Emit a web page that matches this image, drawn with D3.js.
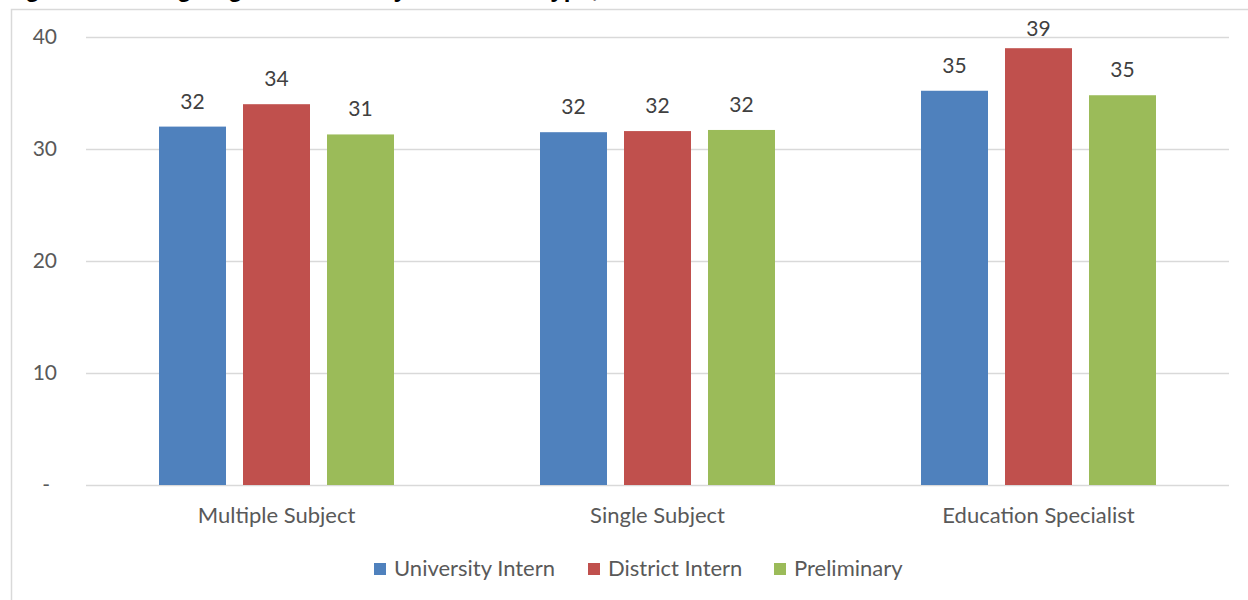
<!DOCTYPE html>
<html>
<head>
<meta charset="utf-8">
<script src="https://cdn.jsdelivr.net/npm/d3@7"></script>
<style>
  html, body { margin: 0; padding: 0; background: #fff; overflow: hidden; }
  svg { display: block; }
</style>
</head>
<body>
<svg id="chart" width="1248" height="600"></svg>
<script>
const titleText = "Figure 3: Average Age of Interns by Credential Type, 2013-14";
const categories = ["Multiple Subject", "Single Subject", "Education Specialist"];
const seriesNames = ["University Intern", "District Intern", "Preliminary"];
const seriesColors = ["#4F81BD", "#C0504D", "#9BBB59"];
const universityIntern = [32.0, 31.5, 35.2];
const districtIntern = [34.0, 31.6, 39.0];
const preliminary = [31.3, 31.7, 34.8];
const yTicks = [0, 10, 20, 30, 40];

const seriesValues = [universityIntern, districtIntern, preliminary];
const font = "Lato, 'Open Sans', sans-serif";
const textColor = "#595959";

const svg = d3.select("#chart");

// chart frame
svg.append("rect")
  .attr("x", 11.5).attr("y", 9.5)
  .attr("width", 1300).attr("height", 700)
  .attr("fill", "none").attr("stroke", "#d9d9d9").attr("stroke-width", 1.5);

// title, mostly above the visible area (as in the reference)
svg.append("text")
  .attr("x", 4).attr("y", -3)
  .attr("font-family", "'Liberation Sans', Arial, sans-serif")
  .attr("font-weight", "bold")
  .attr("font-size", 24)
  .attr("fill", "#000")
  .text(titleText);

const plot = { left: 86, right: 1229, top: 37, bottom: 485 };

const x0 = d3.scaleBand().domain(categories).range([plot.left, plot.right]).paddingInner(0).paddingOuter(0);
const y = d3.scaleLinear().domain([0, 40]).range([plot.bottom, plot.top]);

const barW = 67, barGap = 17;
const groupW = seriesNames.length * barW + (seriesNames.length - 1) * barGap;
const x1 = d3.scaleBand().domain(seriesNames).range([0, groupW]).paddingInner(barGap / (barW + barGap)).paddingOuter(0);

// gridlines
svg.append("g").selectAll("line").data(yTicks).join("line")
  .attr("x1", plot.left).attr("x2", plot.right)
  .attr("y1", d => Math.round(y(d)) + 0.5).attr("y2", d => Math.round(y(d)) + 0.5)
  .attr("stroke", "#d9d9d9").attr("stroke-width", 1.5);

// y axis labels
const yAxis = d3.axisLeft(y).tickValues(yTicks).tickSize(0).tickPadding(0)
  .tickFormat(d => d === 0 ? "-" : d3.format("d")(d));
const gy = svg.append("g").attr("transform", `translate(57,0)`).call(yAxis);
gy.select(".domain").remove();
gy.selectAll("text").attr("font-family", font).attr("font-size", 21).attr("fill", textColor)
  .attr("x", d => d === 0 ? -7 : 0);

// x axis labels
const xAxis = d3.axisBottom(x0).tickSize(0).tickPadding(0);
const gx = svg.append("g").attr("transform", `translate(0,${plot.bottom + 22})`).call(xAxis);
gx.select(".domain").remove();
gx.selectAll("text").attr("font-family", font).attr("font-size", 22).attr("fill", textColor);

// bars
const groups = svg.append("g").selectAll("g").data(categories).join("g")
  .attr("transform", d => `translate(${x0(d) + (x0.bandwidth() - groupW) / 2},0)`);

groups.selectAll("rect")
  .data((c, ci) => seriesNames.map((s, si) => ({ s, si, v: seriesValues[si][ci] })))
  .join("rect")
  .attr("x", d => x1(d.s))
  .attr("width", x1.bandwidth())
  .attr("y", d => y(d.v))
  .attr("height", d => y(0) - y(d.v))
  .attr("fill", d => seriesColors[d.si]);

groups.selectAll("text")
  .data((c, ci) => seriesNames.map((s, si) => ({ s, si, v: seriesValues[si][ci] })))
  .join("text")
  .attr("x", d => x1(d.s) + x1.bandwidth() / 2)
  .attr("y", d => Math.max(y(d.v) - 18, 36))
  .attr("text-anchor", "middle")
  .attr("font-family", font).attr("font-size", 21).attr("fill", "#404040")
  .text(d => d3.format(".0f")(d.v));

// legend
const legendItems = [
  { name: seriesNames[0], color: seriesColors[0], x: 374 },
  { name: seriesNames[1], color: seriesColors[1], x: 588 },
  { name: seriesNames[2], color: seriesColors[2], x: 774 }
];
const lg = svg.append("g").selectAll("g").data(legendItems).join("g")
  .attr("transform", d => `translate(${d.x},563)`);
lg.append("rect").attr("width", 12).attr("height", 12).attr("fill", d => d.color);
lg.append("text").attr("x", 20).attr("y", 13)
  .attr("font-family", font).attr("font-size", 22).attr("fill", textColor)
  .text(d => d.name);
</script>
</body>
</html>
